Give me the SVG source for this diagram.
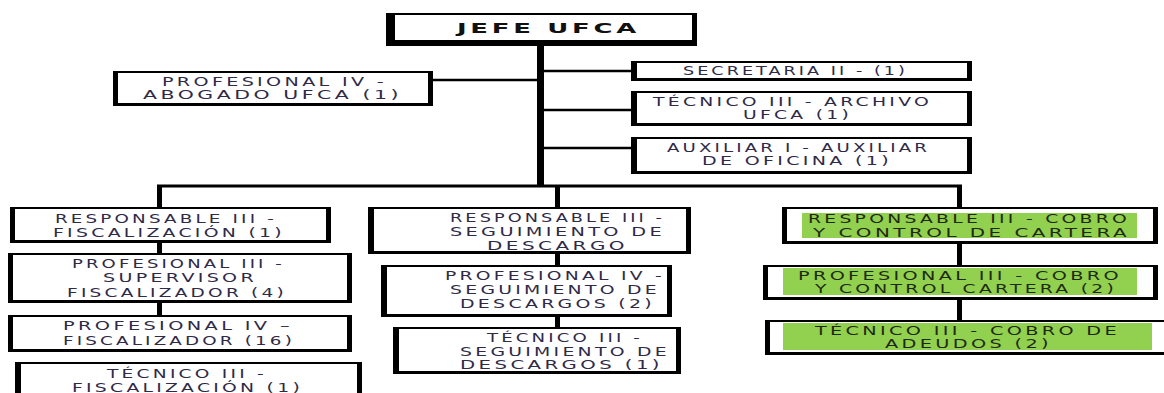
<svg xmlns="http://www.w3.org/2000/svg" width="1164" height="393" viewBox="0 0 1164 393">
<style>
.frame{fill:#000}
.inner{fill:#fff}
.green{fill:#92d050}
.t{font-family:"DejaVu Sans","Liberation Sans",sans-serif;font-size:11.5px;letter-spacing:2px;fill:#2e2a48}
.tg{font-family:"DejaVu Sans","Liberation Sans",sans-serif;font-size:11.5px;letter-spacing:2px;fill:#1e2a10}
.tb{font-family:"DejaVu Sans","Liberation Sans",sans-serif;font-size:14px;font-weight:bold;letter-spacing:2px;fill:#111}
.ln{stroke:#000;fill:none}
</style>
<rect width="1164" height="393" fill="#fff"/>
<g id="connectors">
  <line class="ln" x1="540.5" y1="44" x2="540.5" y2="187" stroke-width="7"/>
  <line class="ln" x1="157" y1="186" x2="962" y2="186" stroke-width="3"/>
  <line class="ln" x1="159.5" y1="185" x2="159.5" y2="208" stroke-width="5"/>
  <line class="ln" x1="557.5" y1="185" x2="557.5" y2="208" stroke-width="5"/>
  <line class="ln" x1="959.5" y1="185" x2="959.5" y2="208" stroke-width="5"/>
  <line class="ln" x1="159.5" y1="242" x2="159.5" y2="254" stroke-width="5"/>
  <line class="ln" x1="159.5" y1="302" x2="159.5" y2="316" stroke-width="5"/>
  <line class="ln" x1="557.5" y1="253" x2="557.5" y2="266" stroke-width="5"/>
  <line class="ln" x1="557.5" y1="316" x2="557.5" y2="328" stroke-width="5"/>
  <line class="ln" x1="959.5" y1="243" x2="959.5" y2="266" stroke-width="5"/>
  <line class="ln" x1="959.5" y1="299" x2="959.5" y2="321" stroke-width="5"/>
  <line class="ln" x1="540" y1="71" x2="632" y2="71" stroke-width="2.5"/>
  <line class="ln" x1="540" y1="110" x2="632" y2="110" stroke-width="2.5"/>
  <line class="ln" x1="540" y1="148" x2="632" y2="148" stroke-width="2.5"/>
  <line class="ln" x1="432" y1="80" x2="540" y2="80" stroke-width="2.5"/>
</g>
<g id="jefe">
  <rect class="frame" x="386" y="13" width="311" height="33"/>
  <rect class="inner" x="395" y="15" width="297" height="25"/>
  <text class="tb" x="457" y="33" textLength="183" lengthAdjust="spacingAndGlyphs">JEFE UFCA</text>
</g>
<g id="abogado">
  <rect class="frame" x="113" y="71" width="320" height="35"/>
  <rect class="inner" x="118" y="73" width="310" height="30"/>
  <text class="t" x="162" y="86" textLength="225" lengthAdjust="spacingAndGlyphs">PROFESIONAL IV -</text>
  <text class="t" x="143" y="99" textLength="259" lengthAdjust="spacingAndGlyphs">ABOGADO UFCA (1)</text>
</g>
<g id="secretaria">
  <rect class="frame" x="631" y="61" width="341" height="20"/>
  <rect class="inner" x="637" y="63" width="330" height="15"/>
  <text class="t" x="683" y="75" textLength="225" lengthAdjust="spacingAndGlyphs">SECRETARIA II - (1)</text>
</g>
<g id="archivo">
  <rect class="frame" x="631" y="91" width="341" height="35"/>
  <rect class="inner" x="637" y="93" width="330" height="30"/>
  <text class="t" x="653" y="106" textLength="279" lengthAdjust="spacingAndGlyphs">TÉCNICO III - ARCHIVO</text>
  <text class="t" x="743" y="119" textLength="109" lengthAdjust="spacingAndGlyphs">UFCA (1)</text>
</g>
<g id="auxiliar">
  <rect class="frame" x="631" y="137" width="341" height="37"/>
  <rect class="inner" x="637" y="139" width="330" height="32"/>
  <text class="t" x="667" y="152" textLength="263" lengthAdjust="spacingAndGlyphs">AUXILIAR I - AUXILIAR</text>
  <text class="t" x="702" y="165" textLength="190" lengthAdjust="spacingAndGlyphs">DE OFICINA (1)</text>
</g>
<g id="resp-fiscalizacion">
  <rect class="frame" x="10" y="207" width="321" height="36"/>
  <rect class="inner" x="15" y="209" width="311" height="31"/>
  <text class="t" x="55" y="223" textLength="222" lengthAdjust="spacingAndGlyphs">RESPONSABLE III -</text>
  <text class="t" x="53" y="237" textLength="232" lengthAdjust="spacingAndGlyphs">FISCALIZACIÓN (1)</text>
</g>
<g id="prof-supervisor">
  <rect class="frame" x="8" y="253" width="344" height="50"/>
  <rect class="inner" x="13" y="255" width="334" height="45"/>
  <text class="t" x="72" y="268" textLength="213" lengthAdjust="spacingAndGlyphs">PROFESIONAL III -</text>
  <text class="t" x="103" y="282" textLength="154" lengthAdjust="spacingAndGlyphs">SUPERVISOR</text>
  <text class="t" x="67" y="297" textLength="220" lengthAdjust="spacingAndGlyphs">FISCALIZADOR  (4)</text>
</g>
<g id="prof-fiscalizador">
  <rect class="frame" x="8" y="315" width="344" height="37"/>
  <rect class="inner" x="13" y="317" width="334" height="32"/>
  <text class="t" x="63" y="330" textLength="230" lengthAdjust="spacingAndGlyphs">PROFESIONAL IV –</text>
  <text class="t" x="63" y="345" textLength="232" lengthAdjust="spacingAndGlyphs">FISCALIZADOR  (16)</text>
</g>
<g id="tec-fiscalizacion">
  <rect class="frame" x="15" y="362" width="347" height="40"/>
  <rect class="inner" x="21" y="364" width="336" height="40"/>
  <text class="t" x="107" y="378" textLength="160" lengthAdjust="spacingAndGlyphs">TÉCNICO III -</text>
  <text class="t" x="72" y="392" textLength="231" lengthAdjust="spacingAndGlyphs">FISCALIZACIÓN  (1)</text>
</g>
<g id="resp-seguimiento">
  <rect class="frame" x="368" y="207" width="323" height="47"/>
  <rect class="inner" x="374" y="209" width="312" height="42"/>
  <text class="t" x="450" y="222" textLength="215" lengthAdjust="spacingAndGlyphs">RESPONSABLE III -</text>
  <text class="t" x="450" y="236" textLength="215" lengthAdjust="spacingAndGlyphs">SEGUIMIENTO DE</text>
  <text class="t" x="487" y="250" textLength="141" lengthAdjust="spacingAndGlyphs">DESCARGO</text>
</g>
<g id="prof-seguimiento">
  <rect class="frame" x="381" y="265" width="291" height="52"/>
  <rect class="inner" x="387" y="267" width="280" height="47"/>
  <text class="t" x="445" y="280" textLength="220" lengthAdjust="spacingAndGlyphs">PROFESIONAL IV -</text>
  <text class="t" x="450" y="294" textLength="210" lengthAdjust="spacingAndGlyphs">SEGUIMIENTO DE</text>
  <text class="t" x="460" y="308" textLength="195" lengthAdjust="spacingAndGlyphs">DESCARGOS (2)</text>
</g>
<g id="tec-seguimiento">
  <rect class="frame" x="393" y="327" width="288" height="47"/>
  <rect class="inner" x="399" y="329" width="277" height="42"/>
  <text class="t" x="487" y="342" textLength="156" lengthAdjust="spacingAndGlyphs">TÉCNICO III -</text>
  <text class="t" x="460" y="356" textLength="210" lengthAdjust="spacingAndGlyphs">SEGUIMIENTO DE</text>
  <text class="t" x="460" y="369" textLength="203" lengthAdjust="spacingAndGlyphs">DESCARGOS (1)</text>
</g>
<g id="resp-cobro">
  <rect class="frame" x="782" y="207" width="376" height="37"/>
  <rect class="inner" x="787" y="209" width="366" height="32"/>
  <rect class="green" x="802" y="213" width="335" height="25"/>
  <text class="tg" x="808" y="223" textLength="322" lengthAdjust="spacingAndGlyphs">RESPONSABLE III - COBRO</text>
  <text class="tg" x="813" y="237" textLength="317" lengthAdjust="spacingAndGlyphs">Y CONTROL DE CARTERA</text>
</g>
<g id="prof-cobro">
  <rect class="frame" x="763" y="265" width="395" height="35"/>
  <rect class="inner" x="768" y="267" width="385" height="30"/>
  <rect class="green" x="783" y="268" width="354" height="27"/>
  <text class="tg" x="798" y="280" textLength="324" lengthAdjust="spacingAndGlyphs">PROFESIONAL III - COBRO</text>
  <text class="tg" x="815" y="293" textLength="302" lengthAdjust="spacingAndGlyphs">Y CONTROL CARTERA (2)</text>
</g>
<g id="tec-cobro">
  <rect class="frame" x="765" y="320" width="410" height="35"/>
  <rect class="inner" x="770" y="322" width="410" height="30"/>
  <rect class="green" x="783" y="323" width="369" height="27"/>
  <text class="tg" x="815" y="335" textLength="305" lengthAdjust="spacingAndGlyphs">TÉCNICO III - COBRO DE</text>
  <text class="tg" x="885" y="348" textLength="167" lengthAdjust="spacingAndGlyphs">ADEUDOS (2)</text>
</g>
</svg>
